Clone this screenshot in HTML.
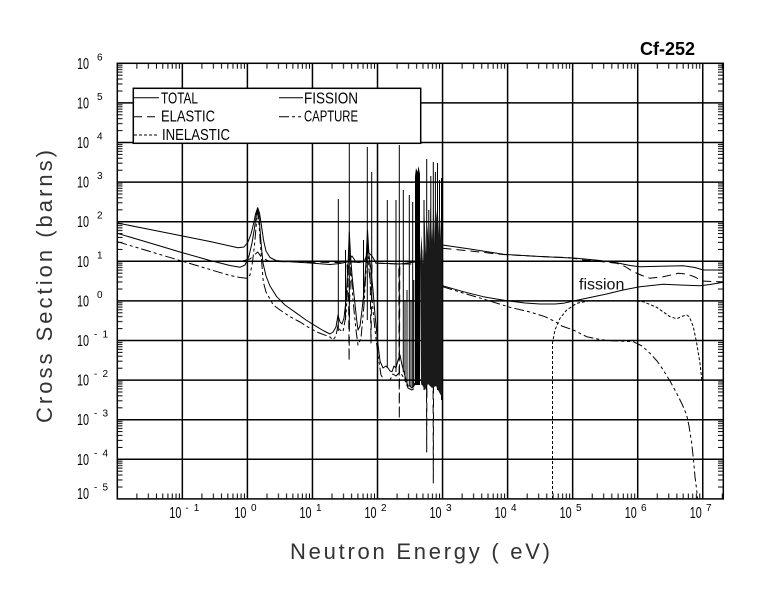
<!DOCTYPE html>
<html>
<head>
<meta charset="utf-8">
<style>
  html,body{margin:0;padding:0;background:#fff;}
  svg{display:block;}
  text{font-family:"Liberation Sans",sans-serif;fill:#000;}
</style>
</head>
<body>
<svg width="780" height="590" viewBox="0 0 780 590" xmlns="http://www.w3.org/2000/svg">
<defs>
  <pattern id="tx" patternUnits="userSpaceOnUse" x="117.3" y="0" width="65.05" height="590">
    <path d="M19.58 493.5V498.9M31.04 493.5V498.9M39.16 493.5V498.9M45.47 493.5V498.9M50.62 493.5V498.9M54.97 493.5V498.9M58.75 493.5V498.9M62.07 493.5V498.9
             M19.58 63.3V68.8M31.04 63.3V68.8M39.16 63.3V68.8M45.47 63.3V68.8M50.62 63.3V68.8M54.97 63.3V68.8M58.75 63.3V68.8M62.07 63.3V68.8" stroke="#000" stroke-width="1"/>
  </pattern>
  <pattern id="ty" patternUnits="userSpaceOnUse" x="0" y="63.3" width="780" height="39.6">
    <path d="M117.3 1.82H122.5M117.3 3.84H122.5M117.3 6.14H122.5M117.3 8.79H122.5M117.3 11.92H122.5M117.3 15.76H122.5M117.3 20.71H122.5M117.3 27.68H122.5
             M718 1.82H723.3M718 3.84H723.3M718 6.14H723.3M718 8.79H723.3M718 11.92H723.3M718 15.76H723.3M718 20.71H723.3M718 27.68H723.3" stroke="#000" stroke-width="1"/>
  </pattern>
</defs>

<rect x="0" y="0" width="780" height="590" fill="#fff"/>

<!-- grid -->
<path d="M182.35 63.3V498.9M247.4 63.3V498.9M312.45 63.3V498.9M377.5 63.3V498.9M442.55 63.3V498.9M507.6 63.3V498.9M572.65 63.3V498.9M637.7 63.3V498.9M702.75 63.3V498.9
M117.3 102.9H723.3M117.3 142.5H723.3M117.3 182.1H723.3M117.3 221.7H723.3M117.3 261.3H723.3M117.3 300.9H723.3M117.3 340.5H723.3M117.3 380.1H723.3M117.3 419.7H723.3M117.3 459.3H723.3" stroke="#000" stroke-width="1.5" fill="none"/>

<!-- minor ticks -->
<rect x="117.3" y="63.3" width="606" height="435.6" fill="url(#tx)"/>
<rect x="117.3" y="63.3" width="606" height="435.6" fill="url(#ty)"/>

<g fill="none" stroke="#000" stroke-width="1" stroke-linejoin="round">
  <!-- TOTAL low energy + resonance baseline -->
  <path d="M117.3,223 L150,229.5 L180,235.5 L210,241.5 L230,246 L238,247.8 L244,247 L248,242 L251,234 L253.5,224 L255.5,214 L257.7,207.7 L259.5,213 L261.5,226 L263.5,240 L266,251 L270,257.5 L276,260.5 L290,261.8 L310,263 L330,264.5 L340,263.5 L347,262 L352,256 L356,262 L364,262 L368,252 L372,256 L376,263 L400,264 L415,262"/>
  <!-- FISSION low energy + resonance valleys -->
  <path d="M117.3,233.3 L150,243 L180,252 L210,260.5 L230,265.5 L240,267.3 L245,265 L249,256 L252,243 L254.5,228 L256.5,214 L257.7,209 L259,216 L260.5,236 L261.7,250 L263,263 L266,276 L270,286 L276.7,296.7 L285,305 L296.7,313.3 L306,320 L316.7,326.7 L324,331 L330,334 L333,332 L336,327 L338,315 L340,322 L342,324 L344,318 L346,300 L348,265 L349.3,232 L350.5,255 L352,275 L354,295 L356.7,320 L358,330 L360,326 L362,310 L364,292 L366,262 L367.5,230 L369,255 L371,270 L373,290 L375,315 L377.5,340 L380,361 L383,368 L386,366 L388,368 L390,371 L392,371.7 L394,366 L396,368 L398,360 L400,355 L402,365 L404,372 L406,380 L408,386 L410,386 L412,388 L414,386 L415,383"/>
  <!-- CAPTURE low energy -->
  <path stroke-dasharray="10,3,3,3,3,3" d="M117.3,241.7 L150,251.5 L180,260.5 L210,269.5 L230,275.5 L240,277.5 L246.7,278.3 L250,275 L252.5,262 L254.5,245 L256,228 L257.5,212 L259,224 L260.5,245 L262,266 L263.3,282 L266,292 L273.3,305 L280,310 L290,316.7 L300,322 L310,328.3 L318,332.5 L326.7,335.7 L330,337 L333,340 L336,336 L338,325 L340,330 L343,332 L346,315 L348,280 L349.3,240 L351,270 L353,300 L356,330 L358,345 L361,338 L364,305 L366,270 L367.5,240 L369,270 L372,300 L375,330 L378,355 L381,375 L384,380 L390,380 L393,374 L396,376 L400,372 L404,378 L408,388 L412,390 L415,388"/>
  <!-- ELASTIC low energy with dips -->
  <path stroke-dasharray="9,5" d="M117.3,261.5 L240,261.5 L250,259 L257.7,252 L262,258 L270,261.5 L336,262.5 L347,263 L348.6,300 L349.1,361 L349.6,300 L351,262 L370,263 L371,343 L372,263 L398.8,264 L399.3,419 L399.8,264 L426.2,264 L426.7,452 L427.2,264 L432.8,264 L433.3,483 L433.8,264 L442,262"/>

  <!-- resonance spikes -->
  <path d="M338.3,331V199 M349.3,325V140 M367.3,320V147 M371.7,300V172 M387.3,368V200 M396,372V200 M399.3,360V145 M403.3,372V190 M409.3,386V195 M412.7,388V202
  M405,380V300 M407,386V290 M411,387V300 M413.8,386V280 M363.5,300V240 M345.5,320V250
  M421.8,385V250 M424,390V200 M426.7,395V159 M428.8,382V210 M430.8,385V176 M433.3,390V162 M435.4,385V172 M437.5,390V163 M439.5,392V180 M441.5,400V178"/>

  <!-- above 1 keV -->
  <path d="M442.5,245 L470,249 L503.3,254.3 L540,256.5 L576.7,258.3 L600,260.5 L616.7,262.7 L630,265.5 L640,266.7 L660,266.3 L683.3,265.7 L695,267.5 L703.3,270 L723.3,270"/>
  <path stroke-dasharray="9,5" d="M442.5,248.3 L470,251 L503,254.5 L540,256.5 L570,257.7 L583.3,260 L600,261.5 L616.7,263.3 L625,266.5 L633.3,271.7 L642,275.5 L650,278.3 L663.3,276.7 L678.3,273.3 L686.7,274 L695,277 L701.7,281 L723.3,282"/>
  <path d="M442.5,285.7 L463.3,291.7 L483.3,296.7 L506.7,300.7 L525,303 L540,304 L555,304 L563.3,303.3 L573.3,301 L590,297.5 L606.7,294 L623,290 L640,286.7 L663.3,284.3 L680,285 L700,285.7 L710,284.5 L723.3,282.3"/>
  <path stroke-dasharray="10,3,3,3,3,3" d="M442.5,286.7 L463,293 L483.3,299 L510,307.3 L530,312 L545,316.7 L555,321.5 L561.7,326 L573.3,330 L586.7,336.7 L600,339.5 L611.7,340.7 L633.3,341.7 L642,346 L650,353.3 L657,361 L663.3,370 L670,381 L676.7,393.3 L682,404 L686.7,415 L689,426 L691.7,443.3 L693.5,460 L695,476.7 L696.7,490 L697.5,499"/>
  <path stroke-dasharray="3,2" d="M552.5,499 L552.5,343 L555,330 L560,318.3 L566.7,310 L576.7,303.3 L590,300.7 L630,300.7 L643.3,301.7 L656.7,307.3 L670,316.7 L676.7,318.7 L683,316 L686.7,315 L689.3,316.7 L693.3,326.7 L696.7,343.3 L700,363.3 L701.7,379.3 L703.3,380 L710,380"/>
</g>

<!-- dense resonance mass -->
<polygon points="415,176 416,168 417.5,172 418.5,166 420,174 420,385 415,385" fill="#000"/>
<polygon points="420,262 421.5,235 423,265 424.5,215 426,255 427.5,225 429,250 430.5,205 432,240 433.5,200 435,245 436.5,210 438,235 439.5,205 441,240 442.3,230 442.3,398 439,392 436,386 432,388 428,384 425,390 421,383" fill="#1a1a1a"/>

<!-- legend -->
<rect x="133.3" y="88.3" width="287.4" height="55" fill="#fff" stroke="#000" stroke-width="1.5"/>
<g fill="none" stroke="#000" stroke-width="1">
  <path d="M134 97.7H159"/>
  <path d="M279 97.7H303"/>
  <path d="M134 116.7H159" stroke-dasharray="8,5"/>
  <path d="M279 116.7H303" stroke-dasharray="10,3,3,3,3,3"/>
  <path d="M134 135H159" stroke-dasharray="3,2"/>
</g>
<g font-size="16">
  <text x="161" y="103.3" textLength="37" lengthAdjust="spacingAndGlyphs">TOTAL</text>
  <text x="304" y="103.3" textLength="54" lengthAdjust="spacingAndGlyphs">FISSION</text>
  <text x="161" y="121.7" textLength="54" lengthAdjust="spacingAndGlyphs">ELASTIC</text>
  <text x="304" y="121.7" textLength="54" lengthAdjust="spacingAndGlyphs">CAPTURE</text>
  <text x="162" y="140" textLength="68" lengthAdjust="spacingAndGlyphs">INELASTIC</text>
</g>

<!-- frame -->
<rect x="117.3" y="63.3" width="606" height="435.6" fill="none" stroke="#000" stroke-width="1.5"/>

<!-- fission label -->
<text x="579" y="289.5" font-size="16" style="fill:#111">fission</text>

<!-- title -->
<text x="640" y="55" font-size="18" font-weight="bold">Cf-252</text>

<!-- y tick labels -->
<g font-size="16" style="fill:#111">
  <text x="77" y="68.8" textLength="12" lengthAdjust="spacingAndGlyphs">10</text>
  <text x="77" y="108.4" textLength="12" lengthAdjust="spacingAndGlyphs">10</text>
  <text x="77" y="148" textLength="12" lengthAdjust="spacingAndGlyphs">10</text>
  <text x="77" y="187.6" textLength="12" lengthAdjust="spacingAndGlyphs">10</text>
  <text x="77" y="227.2" textLength="12" lengthAdjust="spacingAndGlyphs">10</text>
  <text x="77" y="266.8" textLength="12" lengthAdjust="spacingAndGlyphs">10</text>
  <text x="77" y="306.4" textLength="12" lengthAdjust="spacingAndGlyphs">10</text>
  <text x="77" y="346" textLength="12" lengthAdjust="spacingAndGlyphs">10</text>
  <text x="77" y="385.6" textLength="12" lengthAdjust="spacingAndGlyphs">10</text>
  <text x="77" y="425.2" textLength="12" lengthAdjust="spacingAndGlyphs">10</text>
  <text x="77" y="464.8" textLength="12" lengthAdjust="spacingAndGlyphs">10</text>
  <text x="77" y="499" textLength="12" lengthAdjust="spacingAndGlyphs">10</text>
</g>
<g font-size="10" style="fill:#111">
  <text x="97" y="60.3">6</text>
  <text x="97" y="99.9">5</text>
  <text x="97" y="139.5">4</text>
  <text x="97" y="179.1">3</text>
  <text x="97" y="218.7">2</text>
  <text x="97" y="258.3">1</text>
  <text x="97" y="297.9">0</text>
  <text x="94" y="337.5" textLength="14">-1</text>
  <text x="94" y="377.1" textLength="14">-2</text>
  <text x="94" y="416.7" textLength="14">-3</text>
  <text x="94" y="456.3" textLength="14">-4</text>
  <text x="94" y="490.5" textLength="14">-5</text>
</g>

<!-- x tick labels -->
<g font-size="16" style="fill:#111">
  <text x="169.35" y="518" textLength="12" lengthAdjust="spacingAndGlyphs">10</text>
  <text x="234.4" y="518" textLength="12" lengthAdjust="spacingAndGlyphs">10</text>
  <text x="299.45" y="518" textLength="12" lengthAdjust="spacingAndGlyphs">10</text>
  <text x="364.5" y="518" textLength="12" lengthAdjust="spacingAndGlyphs">10</text>
  <text x="429.55" y="518" textLength="12" lengthAdjust="spacingAndGlyphs">10</text>
  <text x="494.6" y="518" textLength="12" lengthAdjust="spacingAndGlyphs">10</text>
  <text x="559.65" y="518" textLength="12" lengthAdjust="spacingAndGlyphs">10</text>
  <text x="624.7" y="518" textLength="12" lengthAdjust="spacingAndGlyphs">10</text>
  <text x="689.75" y="518" textLength="12" lengthAdjust="spacingAndGlyphs">10</text>
</g>
<g font-size="10" style="fill:#111">
  <text x="185.35" y="511" textLength="14">-1</text>
  <text x="251" y="511">0</text>
  <text x="316" y="511">1</text>
  <text x="381" y="511">2</text>
  <text x="446" y="511">3</text>
  <text x="511" y="511">4</text>
  <text x="576" y="511">5</text>
  <text x="641" y="511">6</text>
  <text x="706" y="511">7</text>
</g>

<!-- axis titles -->
<text x="290" y="559" font-size="22" textLength="260" style="fill:#333">Neutron Energy (  eV)</text>
<text transform="translate(52,423) rotate(-90)" font-size="22" textLength="273" style="fill:#333">Cross Section (barns)</text>
</svg>
</body>
</html>
